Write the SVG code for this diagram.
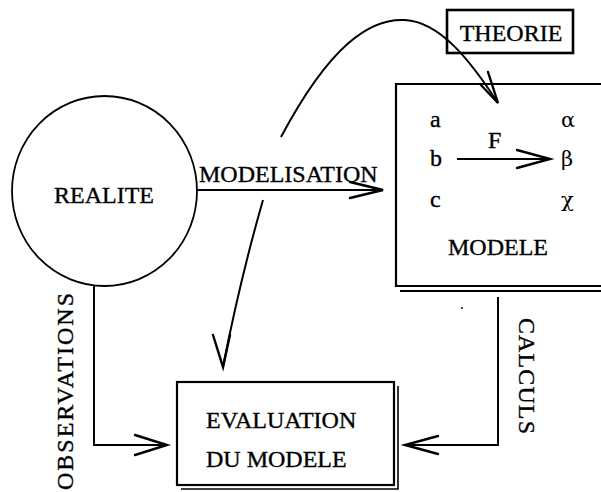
<svg xmlns="http://www.w3.org/2000/svg" width="601" height="492" viewBox="0 0 601 492">
  <defs>
    <style>
      .txt { font-family: "Liberation Serif", "Times New Roman", serif; font-size: 24px; fill: #000; stroke: #000; stroke-width: 0.35; }
      .sym { font-family: "DejaVu Serif", "Liberation Serif", serif; font-size: 21px; fill: #000; }
      .line { fill: none; stroke: #000; stroke-width: 2; }
      .box { fill: #fff; stroke: #000; stroke-width: 2.2; }
      .head { fill: none; stroke: #000; stroke-width: 2.4; stroke-linecap: round; }
    </style>
  </defs>
  <rect width="601" height="492" fill="#fff"/>

  <!-- connectors -->
  <g id="connectors">
    <!-- REALITE -> MODELE -->
    <line class="line" x1="197" y1="190" x2="383" y2="190"/>
    <polyline class="head" points="350,182 383,190 350,198"/>
    <!-- THEORIE curve into MODELE -->
    <path class="line" d="M281,137 C330,45 370,18 405,20 C440,22 470,60 498,103"/>
    <polyline class="head" points="480,84 498,103 488,72"/>
    <!-- lower part of the curve into EVALUATION -->
    <path class="line" d="M263,200 Q240,280 223,367"/>
    <polyline class="head" points="213,335 223,367 230,335"/>
    <!-- OBSERVATIONS -->
    <polyline class="line" points="94,286 94,445 167,445"/>
    <polyline class="head" points="135,435 167,445 135,455"/>
    <!-- CALCULS -->
    <polyline class="line" points="498,297 498,445 405,445" stroke-width="1.6"/>
    <polyline class="head" points="438,436 405,445 438,454"/>
  </g>

  <!-- REALITE -->
  <g id="realite">
    <ellipse cx="104.5" cy="191" rx="92.5" ry="95" fill="#fff" stroke="#000" stroke-width="1.8"/>
    <text class="txt" x="104" y="203" text-anchor="middle" font-size="24.5">REALITE</text>
  </g>

  <!-- THEORIE -->
  <g id="theorie">
    <rect x="447" y="10" width="126" height="43" fill="none" stroke="#000" stroke-width="2.6"/>
    <text class="txt" x="511" y="41" text-anchor="middle" font-size="25">THEORIE</text>
  </g>

  <!-- MODELE -->
  <g id="modele">
    <path d="M612,84 H396 V286 H612" fill="none" stroke="#000" stroke-width="2.2"/>
    <line x1="400" y1="291" x2="601" y2="291" stroke="#000" stroke-width="2.2"/>
    <text class="txt" x="430" y="127" font-size="20">a</text>
    <text class="txt" x="430" y="166" font-size="20">b</text>
    <text class="txt" x="430" y="207" font-size="20">c</text>
    <text class="txt" x="488" y="148" font-size="20">F</text>
    <line class="line" x1="457" y1="159" x2="550" y2="159"/>
    <polyline class="head" points="517,150 550,159 517,168"/>
    <text class="sym" x="561" y="127">α</text>
    <text class="sym" x="561" y="166">β</text>
    <text class="sym" x="561" y="207">χ</text>
    <text class="txt" x="498" y="255" text-anchor="middle" font-size="24.5">MODELE</text>
  </g>

  <!-- EVALUATION DU MODELE -->
  <g id="evaluation">
    <rect class="box" x="177" y="382" width="217" height="103"/>
    <polyline points="398,386 398,489 181,489" fill="none" stroke="#000" stroke-width="1.6"/>
    <text class="txt" x="206" y="428" font-size="25">EVALUATION</text>
    <text class="txt" x="206" y="467" font-size="25">DU MODELE</text>
  </g>

  <!-- edge labels -->
  <g id="labels">
    <text class="txt" x="199" y="182" font-size="23.5">MODELISATION</text>
    <text class="txt" transform="translate(73,490) rotate(-90)" x="0" y="0" textLength="197" lengthAdjust="spacing">OBSERVATIONS</text>
    <text class="txt" transform="translate(519,318) rotate(90)" x="0" y="0" textLength="116" lengthAdjust="spacing">CALCULS</text>
  </g>

  <circle cx="462" cy="308" r="1" fill="#000"/>
</svg>
